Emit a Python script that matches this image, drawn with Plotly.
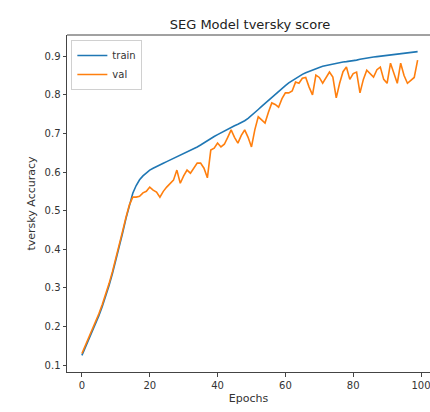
import plotly.graph_objects as go

epochs = list(range(100))

train = [0.125, 0.145, 0.165, 0.185, 0.205, 0.228, 0.252, 0.278, 0.306, 0.337,
         0.370, 0.405, 0.442, 0.480, 0.515, 0.545, 0.565, 0.580, 0.590, 0.598,
         0.605, 0.610, 0.615, 0.619, 0.623, 0.627, 0.631, 0.635, 0.639, 0.643,
         0.647, 0.651, 0.655, 0.660, 0.665, 0.670, 0.676, 0.682, 0.687, 0.692,
         0.697, 0.702, 0.707, 0.712, 0.716, 0.720, 0.724, 0.728, 0.733, 0.739,
         0.746, 0.754, 0.762, 0.770, 0.778, 0.786, 0.794, 0.802, 0.810, 0.817,
         0.824, 0.831, 0.837, 0.843, 0.848, 0.853, 0.857, 0.861, 0.865, 0.868,
         0.871, 0.874, 0.876, 0.878, 0.880, 0.882, 0.883, 0.885, 0.886, 0.887,
         0.888, 0.890, 0.892, 0.894, 0.896, 0.897, 0.898, 0.899, 0.900, 0.901,
         0.902, 0.903, 0.904, 0.905, 0.906, 0.907, 0.908, 0.909, 0.910, 0.912]

val = [0.130, 0.150, 0.170, 0.190, 0.210, 0.233, 0.257, 0.283, 0.311, 0.342,
       0.375, 0.410, 0.447, 0.483, 0.515, 0.535, 0.535, 0.537, 0.546, 0.550,
       0.561, 0.553, 0.548, 0.535, 0.550, 0.561, 0.570, 0.579, 0.605, 0.571,
       0.590, 0.605, 0.597, 0.610, 0.623, 0.623, 0.610, 0.585, 0.657, 0.662,
       0.675, 0.665, 0.672, 0.690, 0.709, 0.690, 0.675, 0.695, 0.709, 0.690,
       0.665, 0.710, 0.743, 0.735, 0.727, 0.755, 0.779, 0.775, 0.768, 0.790,
       0.805, 0.805, 0.810, 0.833, 0.830, 0.843, 0.845, 0.820, 0.800, 0.851,
       0.845, 0.830, 0.846, 0.859, 0.846, 0.792, 0.830, 0.860, 0.872, 0.840,
       0.855, 0.859, 0.805, 0.840, 0.864, 0.855, 0.846, 0.865, 0.872, 0.840,
       0.830, 0.882, 0.855, 0.830, 0.882, 0.850, 0.830, 0.838, 0.845, 0.890]

x_ticks = [0, 20, 40, 60, 80, 100]
y_ticks = [0.1, 0.2, 0.3, 0.4, 0.5, 0.6, 0.7, 0.8, 0.9]

FONT = "DejaVu Sans"
TXT = "#333333"

W, H = 430, 412

fig = go.Figure()
fig.add_trace(go.Scatter(x=epochs, y=train, mode="lines", name="train",
                         line=dict(color="#1f77b4", width=1.6)))
fig.add_trace(go.Scatter(x=epochs, y=val, mode="lines", name="val",
                         line=dict(color="#ff7f0e", width=1.6)))

fig.update_layout(
    width=W, height=H,
    margin=dict(l=67, r=0, t=35, b=40),
    paper_bgcolor="white", plot_bgcolor="white",
    font=dict(family=FONT, color=TXT, size=10),
    title=dict(text="SEG Model tversky score", x=250 / W, xanchor="center",
               y=1 - 24 / H, yanchor="middle",
               font=dict(family=FONT, size=13, color="#222222")),
    showlegend=True,
    legend=dict(x=0.012, y=0.985, xanchor="left", yanchor="top",
                bgcolor="rgba(255,255,255,0.8)", bordercolor="#d0d0d0", borderwidth=1,
                font=dict(family=FONT, size=10, color=TXT),
                tracegroupgap=0, itemwidth=30),
    xaxis=dict(range=[-4.4, 102.65], tickvals=x_ticks, ticktext=[str(t) for t in x_ticks],
               showgrid=False, zeroline=False, showline=True, linecolor="#444444", linewidth=1,
               ticks="outside", ticklen=3.5, tickcolor="#444444",
               ticklabeloverflow="allow",
               tickfont=dict(family=FONT, size=10, color=TXT),
               title=dict(text="Epochs", font=dict(family=FONT, size=11, color=TXT), standoff=4)),
    yaxis=dict(range=[0.082, 0.955], tickvals=y_ticks, ticktext=[f"{t:.1f}" for t in y_ticks],
               showgrid=False, zeroline=False, showline=True, linecolor="#444444", linewidth=1,
               ticks="outside", ticklen=3.5, tickcolor="#444444",
               tickfont=dict(family=FONT, size=10, color=TXT),
               title=dict(text="tversky Accuracy", font=dict(family=FONT, size=11, color=TXT), standoff=6)),
    shapes=[dict(type="line", xref="paper", yref="paper", x0=0, x1=1, y0=1, y1=1,
                 line=dict(color="#444444", width=1))],
)

fig.write_html("out.html",
               config={"displayModeBar": False},
               post_script="document.body.style.margin='0';document.body.style.overflow='hidden';")
